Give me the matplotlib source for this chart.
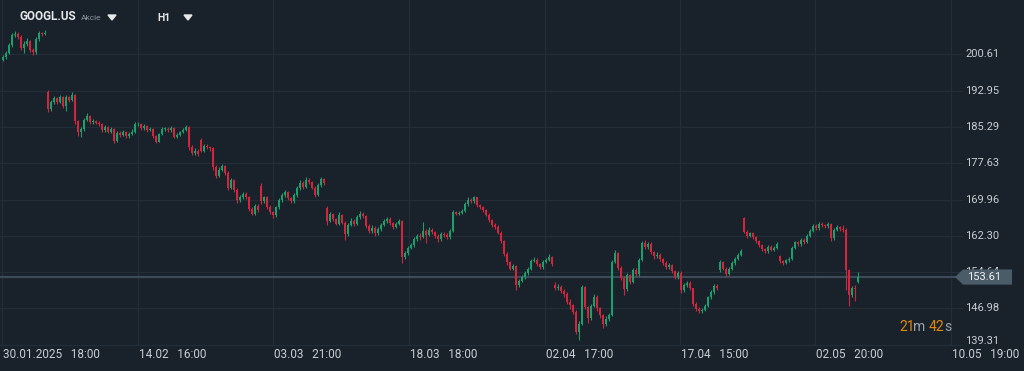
import matplotlib
matplotlib.use('Agg')
import matplotlib.pyplot as plt
from matplotlib.transforms import blended_transform_factory
import numpy as np

# hourly candles, GOOGL.US
opens = [199.4, 200.0, 200.9, 202.5, 204.6, 204.9, 204.3, 202.0, 202.8, 203.4,
         201.6, 201.0, 203.8, 205.0, 204.9, 192.6, 189.0, 190.5, 191.3, 190.6,
         191.5, 189.8, 191.6, 191.0, 192.0, 186.5, 184.2, 184.8, 186.8, 187.6,
         186.3, 186.5, 186.2, 185.9, 184.6, 185.2, 184.3, 184.8, 182.3, 184.0,
         183.6, 184.2, 183.3, 183.8, 184.3, 185.8, 186.0, 185.0, 185.4, 184.7,
         184.9, 183.3, 182.2, 183.7, 184.8, 184.9, 184.6, 185.0, 183.2, 183.6,
         184.2, 184.7, 185.2, 181.0, 179.8, 180.3, 182.6, 180.3, 181.3, 181.0,
         180.8, 176.8, 175.0, 176.3, 177.0, 175.6, 172.4, 174.0, 172.0, 169.8,
         170.4, 171.2, 170.5, 168.0, 167.0, 168.7, 172.8, 169.6, 170.4, 168.4,
         167.3, 166.6, 168.3, 169.8, 170.9, 171.5, 170.2, 169.6, 170.9, 172.3,
         173.5, 172.6, 174.0, 173.6, 172.5, 171.0, 173.0, 174.2, 168.2, 165.5,
         166.9, 165.8, 164.9, 166.8, 165.1, 162.6, 164.6, 165.5, 164.8, 166.2,
         167.0, 166.5, 164.4, 163.3, 164.0, 162.8, 163.7, 164.6, 165.4, 165.9,
         165.0, 164.2, 164.9, 165.5, 157.8, 158.6, 159.8, 160.3, 161.7, 162.3,
         162.0, 163.4, 162.5, 163.6, 163.1, 162.3, 161.6, 162.7, 162.4, 162.0,
         163.4, 167.4, 167.0, 167.2, 167.6, 169.0, 169.9, 169.6, 170.4, 168.8,
         168.3, 167.7, 166.8, 165.6, 164.6, 164.2, 163.0, 161.2, 158.5, 156.7,
         155.4, 155.9, 152.0, 152.8, 153.6, 154.4, 155.3, 157.0, 157.3, 156.3,
         155.7, 156.8, 157.3, 157.8, 152.0, 151.2, 151.6, 150.7, 150.0, 148.4,
         147.7, 146.3, 142.0, 143.8, 151.5, 147.3, 145.0, 147.5, 149.5, 147.0,
         145.5, 143.6, 144.8, 145.6, 156.8, 158.6, 155.6, 153.5, 151.0, 154.0,
         152.6, 155.0, 154.2, 157.3, 160.8, 160.0, 160.6, 158.8, 158.0, 158.3,
         157.4, 156.6, 155.7, 156.1, 154.8, 153.6, 154.5, 150.8, 151.9, 152.4,
         151.2, 148.0, 146.9, 146.5, 146.7, 147.6, 149.3, 150.4, 151.8, 155.0,
         156.8, 155.4, 154.3, 155.3, 156.5, 157.4, 158.3, 166.0, 163.2, 162.3,
         162.8, 162.0, 161.2, 160.3, 159.5, 159.0, 160.0, 159.4, 159.8, 158.0,
         157.0, 156.6, 157.1, 157.4, 159.8, 160.9, 160.5, 161.4, 161.0, 162.3,
         163.4, 164.4, 163.9, 164.9, 164.6, 164.3, 164.8, 161.8, 163.6, 164.1,
         163.8, 163.6, 155.1, 149.8, 151.4, 152.6]
highs = [200.5, 201.3, 202.9, 205.0, 205.6, 205.3, 204.6, 203.4, 204.0, 203.7,
         202.0, 204.2, 205.5, 205.4, 205.7, 193.0, 190.9, 191.8, 191.7, 192.0,
         191.8, 192.0, 191.9, 192.6, 192.2, 186.8, 185.3, 187.2, 188.2, 187.9,
         187.0, 186.8, 186.5, 186.1, 185.6, 185.5, 185.2, 185.0, 184.4, 184.4,
         184.6, 184.5, 184.2, 184.8, 186.3, 186.4, 186.2, 185.9, 185.7, 185.3,
         185.1, 183.6, 184.0, 185.2, 185.3, 185.2, 185.4, 185.2, 184.0, 184.5,
         185.0, 185.6, 185.4, 181.4, 180.8, 180.6, 182.9, 181.7, 181.6, 181.3,
         181.0, 177.2, 176.8, 177.4, 177.3, 175.9, 174.5, 174.3, 172.3, 170.9,
         171.6, 171.5, 170.8, 168.4, 169.1, 169.0, 173.4, 170.8, 170.7, 168.8,
         167.6, 168.7, 170.2, 171.3, 172.0, 171.8, 170.5, 171.3, 172.8, 174.0,
         173.9, 174.7, 174.6, 173.9, 172.8, 173.5, 174.7, 174.6, 168.6, 167.4,
         167.2, 166.1, 167.3, 167.0, 165.4, 165.0, 166.0, 165.9, 166.7, 167.5,
         167.4, 166.8, 164.7, 164.5, 164.3, 164.1, 165.0, 165.8, 166.3, 166.2,
         165.3, 165.3, 165.9, 165.7, 159.0, 160.2, 160.8, 162.1, 162.7, 162.8,
         165.2, 163.8, 164.2, 164.0, 163.4, 162.6, 163.1, 163.1, 162.8, 163.8,
         167.8, 167.6, 167.5, 168.0, 169.4, 170.4, 170.3, 170.8, 170.6, 169.1,
         168.6, 168.0, 167.1, 165.9, 165.0, 164.5, 163.3, 161.5, 158.8, 157.0,
         156.4, 156.2, 153.3, 154.0, 154.9, 155.8, 157.5, 157.8, 157.6, 156.6,
         157.2, 157.7, 158.4, 158.1, 152.6, 152.2, 151.9, 151.1, 150.4, 149.0,
         148.0, 146.6, 144.3, 152.0, 151.7, 147.6, 148.0, 150.0, 149.8, 147.3,
         145.8, 145.4, 146.1, 157.2, 159.4, 158.9, 156.0, 153.8, 154.4, 154.3,
         155.5, 155.6, 157.7, 161.3, 161.4, 161.0, 160.9, 159.2, 158.8, 158.6,
         157.7, 156.9, 156.6, 156.4, 155.1, 154.9, 154.8, 152.3, 152.8, 152.7,
         151.4, 148.3, 147.2, 147.1, 148.0, 149.7, 150.8, 152.2, 152.1, 157.2,
         157.0, 155.7, 155.7, 156.9, 157.8, 158.7, 159.6, 166.3, 163.6, 163.2,
         163.1, 162.3, 161.5, 160.6, 159.8, 160.4, 160.3, 160.2, 160.9, 158.3,
         157.3, 157.5, 157.8, 160.2, 161.3, 161.2, 161.8, 161.8, 162.7, 163.8,
         164.8, 164.7, 165.3, 165.2, 164.9, 165.2, 165.0, 164.0, 164.5, 164.4,
         164.6, 164.0, 155.4, 151.8, 152.0, 154.7]
lows = [199.1, 199.7, 200.6, 202.2, 204.2, 203.9, 201.5, 200.8, 202.3, 201.2,
        200.5, 200.7, 203.5, 204.5, 204.6, 188.4, 188.6, 190.1, 190.2, 190.3,
        189.3, 188.6, 190.6, 190.7, 186.0, 183.4, 183.2, 184.5, 186.5, 185.9,
        186.0, 185.8, 185.4, 184.2, 184.3, 183.9, 184.0, 181.9, 182.0, 183.2,
        183.3, 182.9, 183.0, 183.5, 184.0, 185.4, 184.6, 184.7, 184.3, 184.4,
        182.9, 181.9, 182.0, 183.5, 184.5, 184.3, 184.3, 182.9, 182.9, 183.4,
        184.0, 184.5, 180.5, 179.3, 179.4, 179.2, 180.0, 180.0, 180.6, 180.3,
        176.2, 174.6, 174.7, 175.9, 175.2, 171.9, 172.1, 171.6, 169.3, 169.4,
        170.0, 170.1, 167.6, 166.6, 166.8, 167.3, 169.1, 169.2, 168.0, 166.9,
        166.1, 166.3, 168.0, 169.5, 170.6, 169.8, 169.2, 169.3, 170.6, 172.0,
        172.2, 172.3, 173.2, 172.1, 170.5, 170.7, 172.7, 173.1, 164.6, 165.2,
        165.4, 164.5, 164.6, 164.7, 161.4, 162.3, 164.3, 164.4, 164.5, 165.9,
        166.1, 164.0, 162.9, 163.0, 162.2, 162.5, 163.4, 164.3, 165.1, 164.6,
        163.8, 163.9, 164.6, 156.6, 157.4, 158.3, 159.5, 160.0, 161.2, 161.5,
        161.8, 160.8, 162.2, 162.7, 161.9, 161.0, 161.3, 162.0, 161.6, 161.7,
        163.2, 166.7, 166.8, 166.9, 167.4, 168.7, 169.2, 169.3, 168.4, 167.9,
        167.3, 166.4, 165.2, 164.2, 163.8, 162.6, 160.8, 158.0, 156.2, 155.0,
        155.0, 150.9, 151.6, 152.5, 153.3, 154.1, 155.0, 156.7, 155.9, 155.2,
        155.4, 156.5, 157.0, 156.0, 150.8, 150.9, 150.2, 149.5, 147.9, 146.8,
        145.9, 141.5, 140.4, 143.5, 146.8, 144.0, 144.6, 147.2, 146.5, 145.0,
        142.9, 143.3, 144.4, 145.3, 156.5, 155.1, 153.0, 149.8, 150.7, 152.1,
        152.3, 153.8, 153.9, 157.0, 159.6, 159.6, 158.4, 157.5, 157.7, 157.0,
        156.2, 155.3, 155.4, 154.4, 153.2, 153.3, 150.2, 150.5, 151.6, 150.8,
        147.6, 146.5, 146.0, 146.1, 146.4, 147.3, 149.0, 150.1, 150.8, 154.7,
        155.0, 153.9, 154.0, 155.0, 156.2, 157.1, 158.0, 162.8, 161.9, 162.0,
        161.6, 160.8, 159.9, 159.1, 158.6, 158.7, 159.0, 159.1, 159.5, 156.6,
        156.2, 156.3, 156.8, 157.1, 159.5, 160.1, 160.2, 160.6, 160.7, 162.0,
        163.1, 163.5, 163.6, 164.2, 163.9, 164.0, 161.2, 161.5, 163.3, 163.4,
        163.2, 150.9, 147.4, 149.4, 148.5, 152.3]
closes = [200.0, 200.9, 202.5, 204.6, 204.9, 204.3, 202.0, 202.8, 203.4, 201.6,
          201.0, 203.8, 205.0, 204.9, 205.2, 189.0, 190.5, 191.3, 190.6, 191.5,
          189.8, 191.6, 191.0, 192.0, 186.5, 184.2, 184.8, 186.8, 187.6, 186.3,
          186.5, 186.2, 185.9, 184.6, 185.2, 184.3, 184.8, 182.3, 184.0, 183.6,
          184.2, 183.3, 183.8, 184.3, 185.8, 186.0, 185.0, 185.4, 184.7, 184.9,
          183.3, 182.2, 183.7, 184.8, 184.9, 184.6, 185.0, 183.2, 183.6, 184.2,
          184.7, 185.2, 181.0, 179.8, 180.3, 179.6, 180.3, 181.3, 181.0, 180.8,
          176.8, 175.0, 176.3, 177.0, 175.6, 172.4, 174.0, 172.0, 169.8, 170.4,
          171.2, 170.5, 168.0, 167.0, 168.7, 167.8, 169.6, 170.4, 168.4, 167.3,
          166.6, 168.3, 169.8, 170.9, 171.5, 170.2, 169.6, 170.9, 172.3, 173.5,
          172.6, 174.0, 173.6, 172.5, 171.0, 173.0, 174.2, 173.5, 165.5, 166.9,
          165.8, 164.9, 166.8, 165.1, 162.6, 164.6, 165.5, 164.8, 166.2, 167.0,
          166.5, 164.4, 163.3, 164.0, 162.8, 163.7, 164.6, 165.4, 165.9, 165.0,
          164.2, 164.9, 165.5, 157.8, 158.6, 159.8, 160.3, 161.7, 162.3, 162.0,
          163.4, 162.5, 163.6, 163.1, 162.3, 161.6, 162.7, 162.4, 162.0, 163.4,
          167.4, 167.0, 167.2, 167.6, 169.0, 169.9, 169.6, 170.4, 168.8, 168.3,
          167.7, 166.8, 165.6, 164.6, 164.2, 163.0, 161.2, 158.5, 156.7, 155.4,
          155.9, 152.0, 152.8, 153.6, 154.4, 155.3, 157.0, 157.3, 156.3, 155.7,
          156.8, 157.3, 157.8, 156.4, 151.2, 151.6, 150.7, 150.0, 148.4, 147.7,
          146.3, 142.0, 143.8, 151.5, 147.3, 145.0, 147.5, 149.5, 147.0, 145.5,
          143.6, 144.8, 145.6, 156.8, 158.6, 155.6, 153.5, 151.0, 154.0, 152.6,
          155.0, 154.2, 157.3, 160.8, 160.0, 160.6, 158.8, 158.0, 158.3, 157.4,
          156.6, 155.7, 156.1, 154.8, 153.6, 154.5, 150.8, 151.9, 152.4, 151.2,
          148.0, 146.9, 146.5, 146.7, 147.6, 149.3, 150.4, 151.8, 151.2, 156.8,
          155.4, 154.3, 155.3, 156.5, 157.4, 158.3, 159.2, 163.2, 162.3, 162.8,
          162.0, 161.2, 160.3, 159.5, 159.0, 160.0, 159.4, 159.8, 160.5, 157.0,
          156.6, 157.1, 157.4, 159.8, 160.9, 160.5, 161.4, 161.0, 162.3, 163.4,
          164.4, 163.9, 164.9, 164.6, 164.3, 164.8, 161.8, 163.6, 164.1, 163.8,
          163.6, 155.1, 149.8, 151.4, 151.0, 153.61]

price_ticks = [200.61, 192.95, 185.29, 177.63, 169.96, 162.30, 154.64, 146.98, 139.31]
date_bars = [-0.3, 45.0, 90.0, 135.3, 180.7, 225.7, 270.7, 316.0]
date_labels = ['30.01.2025   18:00', '14.02   16:00', '03.03   21:00', '18.03   18:00',
               '02.04   17:00', '17.04   15:00', '02.05   20:00', '10.05   19:00']

bg = '#19212a'
grid_c = '#232d37'
txt_c = '#c9ced3'
up_c = '#1f9e6d'
down_c = '#d2263d'

W, H = 1024, 371
fig = plt.figure(figsize=(W / 100, H / 100), dpi=100, facecolor=bg)
ax = fig.add_axes([0, 0, 1, 1])
ax.set_facecolor(bg)
for s in ax.spines.values():
    s.set_visible(False)
ax.set_xticks([])
ax.set_yticks([])

# pixel mapping: bar i at x = 3 + 3*i px, 4.739 px per dollar
ax.set_xlim(-1, (W - 3) / 3)
ax.set_ylim(200.61 - (H - 54.3) / 4.739, 200.61 + 54.3 / 4.739)
x_right = (962 - 3) / 3
y_bottom = price_ticks[-1]

# grid
for p in price_ticks:
    ax.plot([-1, x_right], [p, p], color=grid_c, lw=1, zorder=1)
for b in date_bars:
    ax.plot([b, b], [y_bottom, 300], color=grid_c, lw=1, zorder=1)

# candles
o = np.array(opens)
h = np.array(highs)
l = np.array(lows)
c = np.array(closes)
x = np.arange(len(c))
cols = np.where(c >= o, up_c, down_c)
ax.vlines(x, l, h, colors=cols, lw=0.8, zorder=3)
body = np.maximum(np.abs(c - o), 0.2)
ax.bar(x, body, bottom=np.minimum(o, c), width=0.62, color=cols, lw=0, zorder=3)

# last price line and label
last = closes[-1]
ax.plot([-1, (955 - 3) / 3], [last, last], color='#3c4b57', lw=1.6, zorder=2)

ty = blended_transform_factory(fig.transFigure, ax.transData)
for p in price_ticks:
    # bottom label sits a little above its line, clear of the date row
    yl = p + 0.8 if p == price_ticks[-1] else p
    ax.text(965 / W, yl, f'{p:.2f}', transform=ty, color=txt_c, fontsize=8,
            family='Roboto', va='center', ha='left')

ax.fill([955 / W, 963 / W, 1012 / W, 1012 / W, 963 / W],
        [last, last + 1.6, last + 1.6, last - 1.6, last - 1.6],
        transform=ty, color='#4b5c69', lw=0, zorder=5)
ax.text(967 / W, last, f'{last:.2f}', transform=ty, color='#eef1f3', fontsize=8,
        family='Roboto', va='center', ha='left', zorder=6)

tx_dates = blended_transform_factory(ax.transData, fig.transFigure)
for b, lab in zip(date_bars, date_labels):
    ax.text(b + 0.4, 1 - 354 / H, lab, color=txt_c, fontsize=8.5, family='Roboto',
            va='center', ha='left', transform=tx_dates)


def px(xp, yp):
    return xp / W, 1 - yp / H


# header
fig.text(*px(20, 17), 'GOOGL.US', color='#e6e9ec', fontsize=8.5, fontweight='bold',
         family='Roboto', va='center', ha='left')
fig.text(*px(81, 18), 'Akcie', color='#8a939b', fontsize=6, family='Roboto',
         va='center', ha='left')
fig.text(*px(157, 18), 'H1', color='#e6e9ec', fontsize=7.5, fontweight='bold',
         family='Roboto', va='center', ha='left')
for tx in (112, 188):
    fig.patches.append(plt.Polygon([px(tx - 4, 15), px(tx + 4, 15), px(tx, 20)],
                                   closed=True, color='#e6e9ec', transform=fig.transFigure))

# countdown
orange = '#e0890b'
grey = '#9aa2a9'
for xp, t, col in [(899, '21', orange), (913, 'm', grey), (929, '42', orange), (944, 's', grey)]:
    fig.text(*px(xp, 327), t, color=col, fontsize=10, family='Roboto',
             va='center', ha='left')

fig.savefig('out.png', dpi=100, facecolor=bg)
